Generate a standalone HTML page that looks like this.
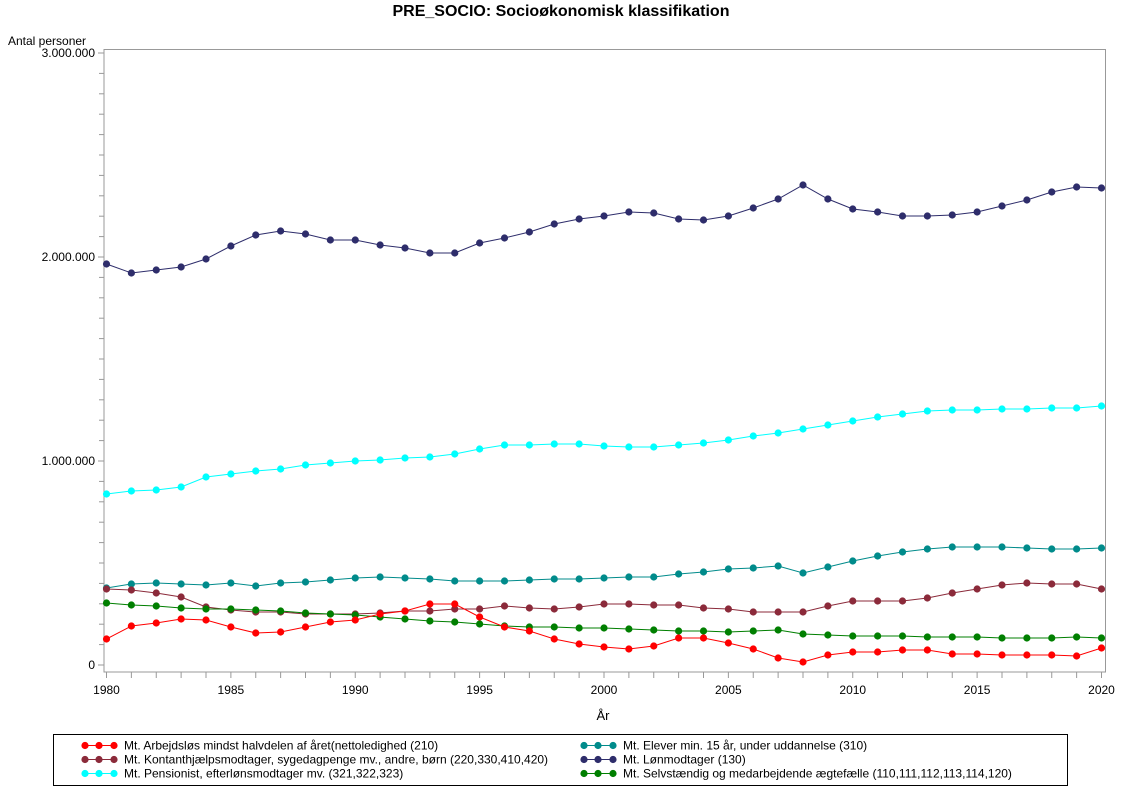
<!DOCTYPE html>
<html><head><meta charset="utf-8"><style>
body{margin:0;background:#fff;font-family:"Liberation Sans",sans-serif;}
</style></head><body>
<svg id="s" width="1122" height="793" xmlns="http://www.w3.org/2000/svg" font-family="Liberation Sans, sans-serif">
<text x="561" y="16" text-anchor="middle" font-size="16" font-weight="bold">PRE_SOCIO: Socioøkonomisk klassifikation</text>
<text x="8" y="45" font-size="12">Antal personer</text>
<rect x="104" y="49.5" width="1001.5" height="622.5" fill="none" stroke="#999" stroke-width="1"/>
<g id="ax" stroke="#999" fill="none"></g>
<g id="lab" font-size="12" fill="#000"></g>
<g id="ser"></g>
<text x="603" y="720" font-size="13" text-anchor="middle">År</text>
<rect x="53.5" y="734.5" width="1014" height="51" fill="none" stroke="#000"/>
<g id="leg" font-size="12"></g>
</svg>
<script>
var ns="http://www.w3.org/2000/svg";
function el(p,t,a,txt){var e=document.createElementNS(ns,t);for(var k in a)e.setAttribute(k,a[k]);if(txt)e.textContent=txt;document.getElementById(p).appendChild(e);return e;}
function X(i){return 106.5+i*24.875;}
function Y(v){return 665-v*0.204;}
for(var v=0;v<=3000;v+=100){var y=Y(v);el('ax','line',{x1:v%1000?99:98,x2:104,y1:y,y2:y});}
['0','1.000.000','2.000.000','3.000.000'].forEach(function(t,i){el('lab','text',{x:95,y:Y(i*1000)+4,'text-anchor':'end'},t);});
for(var i=0;i<=40;i++){el('ax','line',{x1:X(i),x2:X(i),y1:672,y2:678});}
for(var i=0;i<=40;i+=5){el('lab','text',{x:X(i),y:694,'text-anchor':'middle'},String(1980+i));}
var S=[
['#2e2d6b',[264,273,270,267,259,246,235,231,234,240,240,245,248,253,253,243,238,232,224,219,216,212,213,219,220,216,208,199,185,199,209,212,216,216,215,212,206,200,192,187,188]],
['#00ffff',[494,491,490,487,477,474,471,469,465,463,461,460,458,457,454,449,445,445,444,444,446,447,447,445,443,440,436,433,429,425,421,417,414,411,410,410,409,409,408,408,406]],
['#008b8b',[588,584,583,584,585,583,586,583,582,580,578,577,578,579,581,581,581,580,579,579,578,577,577,574,572,569,568,566,573,567,561,556,552,549,547,547,547,548,549,549,548]],
['#8b2a3a',[589,590,593,597,607,610,612,612,614,614,614,613,611,611,609,609,606,608,609,607,604,604,605,605,608,609,612,612,612,606,601,601,601,598,593,589,585,583,584,584,589]],
['#007f00',[603,605,606,608,609,609,610,611,613,614,615,617,619,621,622,624,626,627,627,628,628,629,630,631,631,632,631,630,634,635,636,636,636,637,637,637,638,638,638,637,638]],
['#ff0000',[639,626,623,619,620,627,633,632,627,622,620,614,611,604,604,617,627,631,639,644,647,649,646,638,638,643,649,658,662,655,652,652,650,650,654,654,655,655,655,656,648]]
];
S.forEach(function(s){var pts=s[1].map(function(y,i){return X(i)+','+y;}).join(' ');
el('ser','polyline',{points:pts,fill:'none',stroke:s[0],'stroke-width':1});
s[1].forEach(function(y,i){el('ser','circle',{cx:X(i),cy:y,r:3.6,fill:s[0]});});});
var L=[['#ff0000','Mt. Arbejdsløs mindst halvdelen af året(nettoledighed (210)',0,0],
['#8b2a3a','Mt. Kontanthjælpsmodtager, sygedagpenge mv., andre, børn (220,330,410,420)',0,1],
['#00ffff','Mt. Pensionist, efterlønsmodtager mv. (321,322,323)',0,2],
['#008b8b','Mt. Elever min. 15 år, under uddannelse (310)',1,0],
['#2e2d6b','Mt. Lønmodtager (130)',1,1],
['#007f00','Mt. Selvstændig og medarbejdende ægtefælle (110,111,112,113,114,120)',1,2]];
L.forEach(function(l){var x0=l[2]?583:84,y=745.5+l[3]*14;
el('leg','line',{x1:x0,x2:x0+32,y1:y,y2:y,stroke:l[0]});
[0,14,29].forEach(function(d){el('leg','circle',{cx:x0+d+1,cy:y,r:3.6,fill:l[0]});});
el('leg','text',{x:x0+40,y:y+4},l[1]);});
</script>
</body></html>
